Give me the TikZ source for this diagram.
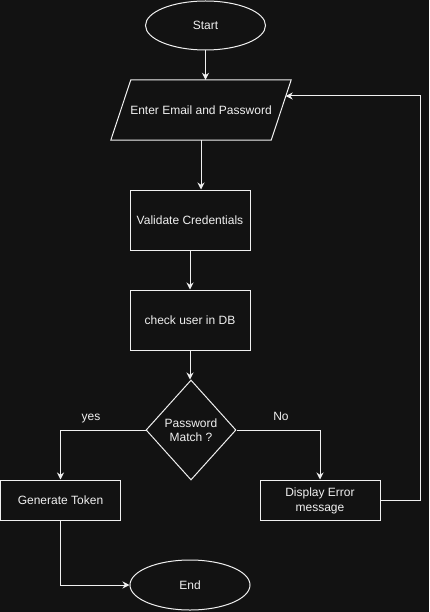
\documentclass[tikz,border=0pt]{standalone}
\usepackage{fontspec}
\setmainfont{Liberation Sans}
\usetikzlibrary{shapes.geometric,arrows.meta,calc}
\definecolor{bg}{HTML}{121212}
\definecolor{fg}{HTML}{F0F0F0}
\begin{document}
\begin{tikzpicture}[x=1bp,y=-1bp,
 every node/.style={font=\fontsize{12bp}{14.4bp}\selectfont, text=fg, align=center},
 box/.style={draw=fg, line width=1bp, fill=bg, minimum width=120bp, minimum height=60bp, inner sep=0pt},
 term/.style={ellipse, draw=fg, line width=1bp, fill=bg, minimum width=120bp, minimum height=49bp, inner sep=0pt},
 io/.style={rectangle, draw=none, minimum width=160bp, minimum height=60bp, inner sep=0pt},
 ioline/.style={draw=fg, line width=1bp, line join=miter},
 dec/.style={diamond, draw=fg, line width=1bp, fill=bg, minimum width=90bp, minimum height=100bp, inner sep=0pt, aspect=0.9},
 flow/.style={draw=fg, line width=1bp, -{Stealth[length=7bp,width=7bp]}},
 lbl/.style={inner sep=0pt}
]
\fill[bg] (0,0) rectangle (429,612);
\useasboundingbox (0,0) rectangle (429,612);

\node[term] (start) at (205.5,25.5) {Start};
\node[io] (input) at (201,110) {Enter Email and Password};
\draw[ioline] ($(input.north west)+(10,0)$) -- ($(input.north east)+(10,0)$)
  -- ($(input.south east)+(-10,0)$) -- ($(input.south west)+(-10,0)$) -- cycle;
\node[box] (validate) at (190,220) {Validate Credentials};
\node[box] (check) at (190,320) {check user in DB};
\node[dec] (match) at (191,430) {Password\\Match ?};
\node[box, minimum width=119bp, minimum height=40bp] (gen) at (60.5,500) {Generate Token};
\node[box, minimum height=40bp, text depth=1bp] (disp) at (320,500) {Display Error\\message};
\node[term, minimum height=50bp] (end) at (190,585) {End};

\node[lbl] (yes) at (91,418.5) {yes};
\node[lbl] (no) at (281,416) {No};

\coordinate (ret) at (285.7,96);
\coordinate (retx) at (420,500);

\draw[flow] (start.south) -- (start.south |- input.north);
\draw[flow] (input.south) -- (input.south |- validate.north);
\draw[flow] (validate) -- (check);
\draw[flow] (check.south) -- (check.south |- match.north);
\draw[flow] (match.west) -| (gen.north);
\draw[flow] (match.east) -| (disp.north);
\draw[flow] (disp.east) -- (retx) |- (ret);
\draw[flow] (gen.south) |- (end.west);
\end{tikzpicture}
\end{document}
